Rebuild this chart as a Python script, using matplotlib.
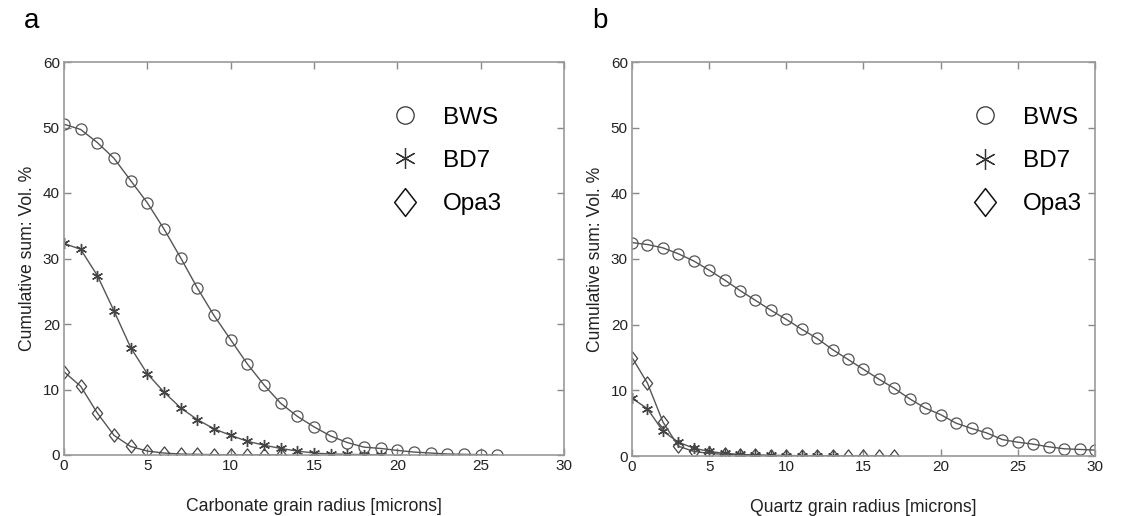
import matplotlib
matplotlib.use("Agg")
import matplotlib.pyplot as plt
from matplotlib.lines import Line2D
from matplotlib.path import Path
import numpy as np

plt.rcParams['font.family'] = ['Liberation Sans', 'DejaVu Sans']

# panel a: carbonate
carb_bws = [50.5, 49.7, 47.7, 45.3, 41.9, 38.5, 34.5, 30.1, 25.5, 21.3, 17.6, 13.9, 10.7, 7.9,
            5.9, 4.3, 2.9, 1.9, 1.2, 1.0, 0.7, 0.45, 0.3, 0.15, 0.1, 0.05, 0.05]
carb_bd7 = [32.3, 31.4, 27.4, 22.0, 16.4, 12.4, 9.6, 7.2, 5.4, 4.0, 3.0, 2.1, 1.5, 1.0,
            0.6, 0.3, 0.15, 0.1, 0.05, 0.05]
carb_opa = [12.7, 10.5, 6.4, 3.0, 1.3, 0.6, 0.3, 0.15, 0.1, 0.05, 0.05, 0.03, 0.02, 0.02]

# panel b: quartz
qtz_bws = [32.5, 32.2, 31.7, 30.8, 29.7, 28.3, 26.8, 25.2, 23.7, 22.2, 20.8, 19.3, 17.9, 16.2,
           14.7, 13.2, 11.7, 10.3, 8.7, 7.3, 6.3, 5.0, 4.2, 3.5, 2.5, 2.1, 1.8, 1.4, 1.1, 1.0, 0.9]
qtz_bd7 = [8.8, 7.2, 3.8, 2.1, 1.2, 0.7, 0.4, 0.25, 0.15, 0.1, 0.07, 0.05, 0.05, 0.05]
qtz_opa = [15.0, 11.1, 5.2, 1.5, 0.7, 0.4, 0.25, 0.15, 0.1, 0.07, 0.05, 0.04, 0.03, 0.03,
           0.02, 0.02, 0.02, 0.02]

names = ['BWS', 'BD7', 'Opa3']

# matlab-ish markers
diamond = Path([(0, 1), (0.78, 0), (0, -1), (-0.78, 0), (0, 1)],
               [Path.MOVETO, Path.LINETO, Path.LINETO, Path.LINETO, Path.CLOSEPOLY])
aster = (6, 2, 0)

lc = '#555555'
fig = plt.figure(figsize=(11.45, 5.16), dpi=100)
axa = fig.add_axes([64/1145, 1-455/516, 500/1145, 393/516])
axb = fig.add_axes([632/1145, 1-456/516, 463/1145, 394/516])


def panel(ax, series, xlabel, letter, lx, ly):
    bws, bd7, opa = series
    ax.plot(np.arange(len(bws)), bws, color=lc, lw=1, marker='o', ms=8, mfc='none',
            mec='#555555', mew=0.9)
    ax.plot(np.arange(len(bd7)), bd7, color=lc, lw=1, marker=aster, ms=8, mec='#444444', mew=1.0)
    ax.plot(np.arange(len(opa)), opa, color=lc, lw=1, marker=diamond, ms=9.5, mfc='none',
            mec='#444444', mew=0.9)
    ax.set_xlim(0, 30)
    ax.set_ylim(0, 60)
    ax.set_xticks([0, 5, 10, 15, 20, 25, 30])
    ax.set_yticks([0, 10, 20, 30, 40, 50, 60])
    ax.tick_params(direction='in', top=True, right=True, labelsize=11, length=5,
                   color='#888888', width=1, pad=3, labelcolor='#222222')
    for s in ax.spines.values():
        s.set_color('#999999')
        s.set_linewidth(1.2)
    ax.set_xlabel(xlabel, fontsize=12.7, labelpad=18, color='#222222')
    ax.set_ylabel('Cumulative sum: Vol. %', fontsize=12.7, labelpad=5, color='#222222')
    handles = [Line2D([], [], ls='none', marker='o', ms=12.5, mfc='none', mec='#333333', mew=0.9),
               Line2D([], [], ls='none', marker=aster, ms=15, mec='#333333', mew=0.9),
               Line2D([], [], ls='none', marker=diamond, ms=20, mfc='none', mec='#111111', mew=1.1)]
    ax.legend(handles, names, frameon=False, fontsize=17.5, loc='upper left',
              bbox_to_anchor=(lx, ly), handlelength=1.0, handletextpad=1.06,
              labelspacing=0.87, borderaxespad=0, borderpad=0)
    fig.text(ax.get_position().x0 - 40/1145, 1-28/516, letter, fontsize=20, ha='left',
             va='baseline')


panel(axa, [carb_bws, carb_bd7, carb_opa], 'Carbonate grain radius [microns]', 'a', 0.658, 0.886)
panel(axb, [qtz_bws, qtz_bd7, qtz_opa], 'Quartz grain radius [microns]', 'b', 0.736, 0.886)

fig.savefig('out.png', dpi=100)
